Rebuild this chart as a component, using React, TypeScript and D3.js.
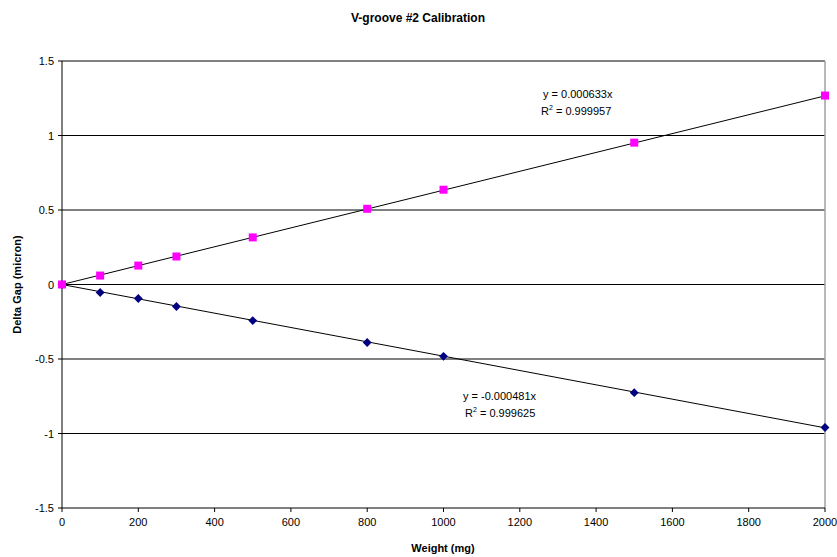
import React from "react";
import * as d3 from "d3";

const weights = [0, 100, 200, 300, 500, 800, 1000, 1500, 2000];
const positiveGap = [0, 0.06, 0.127, 0.188, 0.316, 0.508, 0.636, 0.952, 1.268];
const negativeGap = [0, -0.054, -0.094, -0.148, -0.242, -0.389, -0.482, -0.726, -0.96];
const xTicks = [0, 200, 400, 600, 800, 1000, 1200, 1400, 1600, 1800, 2000];
const yTicks = [-1.5, -1, -0.5, 0, 0.5, 1, 1.5];
const slopePos = 0.000633;
const slopeNeg = -0.000481;

const W = 837, H = 557;
const left = 62, right = 825, top = 61, bottom = 508;
const font = "Liberation Sans, Arial, sans-serif";

export default function App() {
  const x = d3.scaleLinear().domain([0, 2000]).range([left, right]);
  const y = d3.scaleLinear().domain([-1.5, 1.5]).range([bottom, top]);
  const fmtY = (v: number) => String(v);
  const diamond = d3.symbol().type(d3.symbolDiamond2).size(50)();
  return (
    <svg width={W} height={H} style={{ position: "absolute", left: 0, top: 0, background: "#fff" }} fontFamily={font}>
      <rect x={0} y={0} width={W} height={H} fill="#fff" />
      {yTicks.filter((t) => t > -1.5 && t < 1.5).map((t) => (
        <line key={"g" + t} x1={left} x2={right} y1={y(t)} y2={y(t)} stroke="#000" strokeWidth={1} />
      ))}
      <line x1={left} x2={right} y1={top} y2={top} stroke="#808080" strokeWidth={2} />
      <line x1={right} x2={right} y1={top} y2={bottom} stroke="#a0a0a0" strokeWidth={1.5} />
      <line x1={left} x2={left} y1={top} y2={bottom} stroke="#000" strokeWidth={1} />
      <line x1={left} x2={right} y1={bottom} y2={bottom} stroke="#000" strokeWidth={1} />
      {yTicks.map((t) => (
        <g key={"y" + t}>
          <line x1={left - 4} x2={left} y1={y(t)} y2={y(t)} stroke="#000" />
          <text x={left - 8} y={y(t) + 4} textAnchor="end" fontSize={11}>{fmtY(t)}</text>
        </g>
      ))}
      {xTicks.map((t) => (
        <g key={"x" + t}>
          <line x1={x(t)} x2={x(t)} y1={bottom} y2={bottom + 4} stroke="#000" />
          <text x={x(t)} y={bottom + 18} textAnchor="middle" fontSize={11}>{t}</text>
        </g>
      ))}
      <line x1={x(0)} y1={y(0)} x2={x(2000)} y2={y(slopePos * 2000)} stroke="#000" strokeWidth={1} />
      <line x1={x(0)} y1={y(0)} x2={x(2000)} y2={y(slopeNeg * 2000)} stroke="#000" strokeWidth={1} />
      {weights.map((w, i) => (
        <path key={"n" + i} d={diamond || ""} transform={`translate(${x(w)},${y(negativeGap[i])})`} fill="#000080" />
      ))}
      {weights.map((w, i) => (
        <rect key={"p" + i} x={x(w) - 4} y={y(positiveGap[i]) - 4} width={8} height={8} fill="#ff00ff" />
      ))}
      <text x={543} y={98} fontSize={11}>y = 0.000633x</text>
      <text x={541} y={115} fontSize={11}>R<tspan dy={-5} fontSize={7}>2</tspan><tspan dy={5}> = 0.999957</tspan></text>
      <text x={463} y={400} fontSize={11}>y = -0.000481x</text>
      <text x={465} y={417} fontSize={11}>R<tspan dy={-5} fontSize={7}>2</tspan><tspan dy={5}> = 0.999625</tspan></text>
      <text x={418} y={22} textAnchor="middle" fontSize={12} fontWeight="bold">V-groove #2 Calibration</text>
      <text x={443} y={552} textAnchor="middle" fontSize={11} fontWeight="bold">Weight (mg)</text>
      <text transform={`translate(21,${(top + bottom) / 2}) rotate(-90)`} textAnchor="middle" fontSize={11} fontWeight="bold">Delta Gap (micron)</text>
    </svg>
  );
}
